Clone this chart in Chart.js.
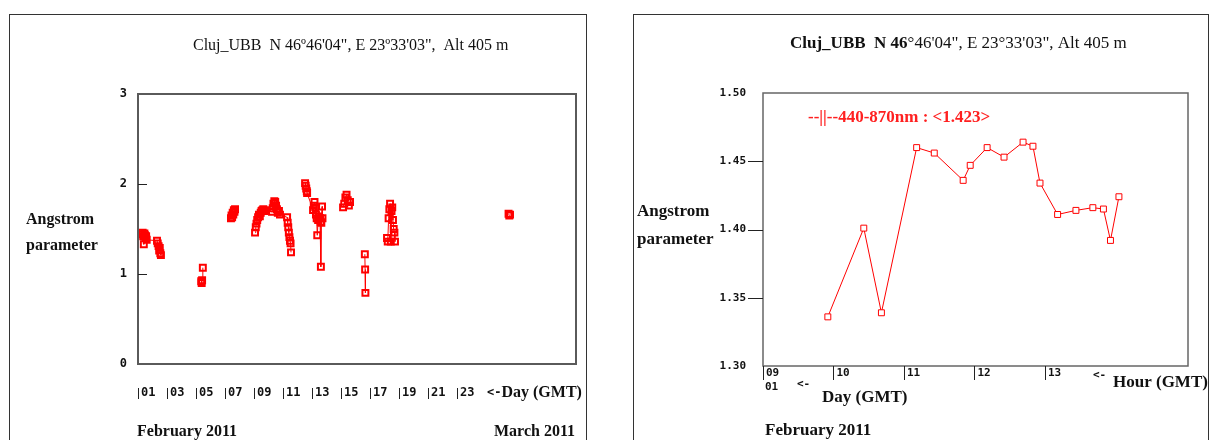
<!DOCTYPE html>
<html>
<head>
<meta charset="utf-8">
<script src="https://cdn.jsdelivr.net/npm/chart.js@4.4.1/dist/chart.umd.min.js"></script>
<style>
  body { margin: 0; background: #fff; width: 1211px; height: 440px; overflow: hidden; position: relative; }
  .panel { position: absolute; border: 1.5px solid #333; box-sizing: border-box; }
  #panelLeft { left: 9px; top: 14px; width: 578px; height: 440px; }
  #panelRight { left: 633px; top: 14px; width: 576px; height: 440px; }
  canvas { position: absolute; top: 0; }
  #chartLeft { left: 0; }
  #chartRight { left: 620px; }
</style>
</head>
<body>
<div class="panel" id="panelLeft"></div>
<div class="panel" id="panelRight"></div>
<canvas id="chartLeft" width="600" height="440"></canvas>
<canvas id="chartRight" width="591" height="440"></canvas>

<script>
// --- February 2011, daily view (null = gap between measuring days) ---
const febDays = [
  1.28, 1.32, 1.36, 1.40, 1.44, 1.48, 1.52, 1.56, 1.60,
  2.31, 2.36, 2.42, 2.46, 2.50, 2.54, 2.58, null,
  5.36, 5.39, 5.42, 5.47, null,
  7.41, 7.45, 7.49, 7.53, 7.57, 7.61, 7.65, 7.69, null,
  9.07, 9.12, 9.17, 9.22, 9.28, 9.34, 9.40, 9.46, 9.52, 9.58, 9.64, 9.70, 9.76,
  10.24, 10.29, 10.34, 10.40, 10.46, 10.52, 10.58, 10.64, 10.72, 10.79,
  11.28, 11.32, 11.36, 11.40, 11.44, 11.48, 11.52, 11.55, null,
  12.52, 12.56, 12.60, 12.64, 12.66,
  13.07, 13.12, 13.17, 13.22, 13.27, 13.32, 13.36, 13.42, 13.48, 13.55, 13.60, 13.61, 13.64, 13.69, 13.72, null,
  15.14, 15.22, 15.30, 15.38, 15.46, 15.54, 15.62, null,
  16.64, 16.66, 16.68, null,
  18.17, 18.22, 18.28, 18.33, 18.38, 18.43, 18.48, 18.53, 18.58, 18.63, 18.68, 18.72, null,
  26.55, 26.60, 26.65
];
const febAngstrom = [
  1.44, 1.46, 1.42, 1.33, 1.45, 1.43, 1.40, 1.42, 1.38,
  1.37, 1.34, 1.31, 1.26, 1.29, 1.23, 1.21, null,
  0.92, 0.90, 0.93, 1.07, null,
  1.62, 1.65, 1.63, 1.68, 1.66, 1.71, 1.69, 1.72, null,
  1.46, 1.52, 1.56, 1.60, 1.63, 1.66, 1.64, 1.68, 1.70, 1.71, 1.72, 1.70, 1.71,
  1.69, 1.73, 1.78, 1.81, 1.80, 1.76, 1.72, 1.68, 1.70, 1.66,
  1.63, 1.57, 1.52, 1.46, 1.41, 1.37, 1.34, 1.24, null,
  2.01, 1.98, 1.95, 1.92, 1.90,
  1.71, 1.76, 1.80, 1.74, 1.66, 1.62, 1.43, 1.60, 1.64, 1.62, 1.58, 1.08, 1.57, 1.75, 1.62, null,
  1.74, 1.78, 1.85, 1.88, 1.82, 1.76, 1.80, null,
  1.22, 1.05, 0.79, null,
  1.40, 1.36, 1.62, 1.72, 1.78, 1.36, 1.70, 1.74, 1.60, 1.50, 1.46, 1.36, null,
  1.67, 1.65, 1.66
];
const dayTicks = [1, 3, 5, 7, 9, 11, 13, 15, 17, 19, 21, 23];
const dayTickLabels = ['01', '03', '05', '07', '09', '11', '13', '15', '17', '19', '21', '23'];
const febYTicks = [0, 1, 2, 3];
const febYLabels = ['0', '1', '2', '3'];

// --- 01 February 2011, hourly view ---
const hours = [9.92, 10.43, 10.68, 11.18, 11.43, 11.84, 11.94, 12.18, 12.42,
               12.69, 12.83, 12.93, 13.18, 13.44, 13.68, 13.83, 13.93, 14.05];
const hourAngstrom = [1.336, 1.401, 1.339, 1.460, 1.456, 1.436, 1.447, 1.460, 1.453,
                      1.464, 1.461, 1.434, 1.411, 1.414, 1.416, 1.415, 1.392, 1.424];
const hourTicks = [9, 10, 11, 12, 13];
const hourTickLabels = ['09', '10', '11', '12', '13'];
const hourYTicks = [1.30, 1.35, 1.40, 1.45, 1.50];
const hourYLabels = ['1.30', '1.35', '1.40', '1.45', '1.50'];

const serif = '"Liberation Serif", "Times New Roman", serif';
const mono = '"DejaVu Sans Mono", monospace';

const meanAngstrom = hourAngstrom.reduce((s, v) => s + v, 0) / hourAngstrom.length;

// box round the plot, little tick bars and the loose texts
const decoPlugin = {
  id: 'deco',
  afterDraw(chart, args, o) {
    const { ctx, chartArea: a, scales: { x, y } } = chart;
    ctx.save();
    ctx.strokeStyle = o.boxColor;
    ctx.lineWidth = o.boxWidth;
    ctx.strokeRect(a.left, a.top, a.right - a.left, a.bottom - a.top);

    ctx.strokeStyle = '#222';
    ctx.lineWidth = 1;
    o.yMarks.forEach(v => {
      const py = Math.round(y.getPixelForValue(v)) + 0.5;
      ctx.beginPath();
      ctx.moveTo(a.left + o.yMark[0], py);
      ctx.lineTo(a.left + o.yMark[1], py);
      ctx.stroke();
    });
    o.xMarks.forEach(v => {
      const px = Math.round(x.getPixelForValue(v)) + 0.5;
      ctx.beginPath();
      ctx.moveTo(px, a.bottom + o.xMark[0]);
      ctx.lineTo(px, a.bottom + o.xMark[1]);
      ctx.stroke();
    });

    ctx.textBaseline = 'middle';
    o.texts.forEach(t => {
      let cx = t.x;
      ctx.textAlign = t.align || 'left';
      t.parts.forEach(p => {
        ctx.font = p.font;
        ctx.fillStyle = p.color || '#111';
        ctx.fillText(p.text, cx, t.y);
        cx += ctx.measureText(p.text).width;
      });
    });
    ctx.restore();
  }
};

function buildChart(id, opt) {
  const data = opt.xs.map((v, i) => ({ x: v, y: opt.ys[i] }));
  return new Chart(document.getElementById(id), {
    type: 'line',
    data: {
      datasets: [{
        data: data,
        borderColor: '#ff0000',
        borderWidth: 1,
        pointStyle: 'rect',
        pointRadius: 4.2,
        pointBorderWidth: opt.pointLine,
        pointBorderColor: '#ff0000',
        pointBackgroundColor: opt.pointFill,
        spanGaps: false,
        tension: 0
      }]
    },
    options: {
      responsive: false,
      animation: false,
      layout: { padding: opt.padding },
      plugins: {
        legend: { display: false },
        tooltip: { enabled: false },
        deco: opt.deco
      },
      scales: {
        x: {
          type: 'linear',
          min: opt.xMin,
          max: opt.xMax,
          grid: { display: false, drawTicks: false },
          border: { display: false },
          afterBuildTicks: s => { s.ticks = opt.xTicks.map(v => ({ value: v })); },
          afterFit: s => { s.height = opt.xHeight; },
          ticks: {
            autoSkip: false,
            maxRotation: 0,
            align: 'start',
            labelOffset: 3,
            padding: opt.xPad,
            color: '#111',
            font: { family: mono, size: opt.tickSize, weight: 'bold' },
            callback: (v, i) => opt.xLabels[i]
          }
        },
        y: {
          min: opt.yMin,
          max: opt.yMax,
          grid: { display: false, drawTicks: false },
          border: { display: false },
          afterBuildTicks: s => { s.ticks = opt.yTicks.map(v => ({ value: v })); },
          afterFit: s => { s.width = opt.yWidth; },
          ticks: {
            padding: opt.yPad,
            color: '#111',
            font: { family: mono, size: opt.tickSize, weight: 'bold' },
            callback: (v, i) => opt.yLabels[i]
          }
        }
      }
    },
    plugins: [decoPlugin]
  });
}

buildChart('chartLeft', {
  xs: febDays, ys: febAngstrom, pointFill: 'rgba(0,0,0,0)', pointLine: 2,
  xMin: 1, xMax: 31.2, yMin: 0, yMax: 3,
  xTicks: dayTicks, xLabels: dayTickLabels, yTicks: febYTicks, yLabels: febYLabels,
  padding: { left: 100, top: 94, right: 24, bottom: 36 },
  xHeight: 40, yWidth: 38, xPad: 22, yPad: 11, tickSize: 12,
  deco: {
    boxColor: '#5a5a5a', boxWidth: 2,
    yMarks: [1, 2], yMark: [0, 9],
    xMarks: dayTicks, xMark: [24, 35],
    texts: [
      { x: 193, y: 46, parts: [{ text: 'Cluj_UBB  N 46º46\'04", E 23º33\'03",  Alt 405 m', font: '16px ' + serif }] },
      { x: 26, y: 220, parts: [{ text: 'Angstrom', font: 'bold 16px ' + serif }] },
      { x: 26, y: 246, parts: [{ text: 'parameter', font: 'bold 16px ' + serif }] },
      { x: 487, y: 393, parts: [{ text: '<-', font: 'bold 12px ' + mono }, { text: 'Day (GMT)', font: 'bold 16px ' + serif }] },
      { x: 137, y: 432, parts: [{ text: 'February 2011', font: 'bold 16px ' + serif }] },
      { x: 575, y: 432, align: 'right', parts: [{ text: 'March 2011', font: 'bold 16px ' + serif }] }
    ]
  }
});

buildChart('chartRight', {
  xs: hours, ys: hourAngstrom, pointFill: '#ffffff', pointLine: 1,
  xMin: 9, xMax: 15.03, yMin: 1.30, yMax: 1.50,
  xTicks: hourTicks, xLabels: hourTickLabels, yTicks: hourYTicks, yLabels: hourYLabels,
  padding: { left: 100, top: 93, right: 23, bottom: 54 },
  xHeight: 20, yWidth: 43, xPad: 1, yPad: 17, tickSize: 11,
  deco: {
    boxColor: '#666', boxWidth: 1.5,
    yMarks: [1.35, 1.40, 1.45], yMark: [-15, 0],
    xMarks: hourTicks, xMark: [0, 14],
    texts: [
      { x: 170, y: 44, parts: [
        { text: 'Cluj_UBB  N 46', font: 'bold 17px ' + serif },
        { text: '°46\'04", E 23°33\'03", Alt 405 m', font: '17px ' + serif }
      ] },
      { x: 188, y: 118, parts: [{ text: '--||--440-870nm : <' + meanAngstrom.toFixed(3) + '>', font: 'bold 17px ' + serif, color: '#ff2020' }] },
      { x: 17, y: 212, parts: [{ text: 'Angstrom', font: 'bold 17px ' + serif }] },
      { x: 17, y: 240, parts: [{ text: 'parameter', font: 'bold 17px ' + serif }] },
      { x: 473, y: 375, parts: [{ text: '<-', font: 'bold 11px ' + mono }] },
      { x: 493, y: 383, parts: [{ text: 'Hour (GMT)', font: 'bold 17px ' + serif }] },
      { x: 145, y: 387, parts: [{ text: '01', font: 'bold 11px ' + mono }] },
      { x: 177, y: 384, parts: [{ text: '<-', font: 'bold 11px ' + mono }] },
      { x: 202, y: 398, parts: [{ text: 'Day (GMT)', font: 'bold 17px ' + serif }] },
      { x: 145, y: 431, parts: [{ text: 'February 2011', font: 'bold 17px ' + serif }] }
    ]
  }
});
</script>
</body>
</html>
